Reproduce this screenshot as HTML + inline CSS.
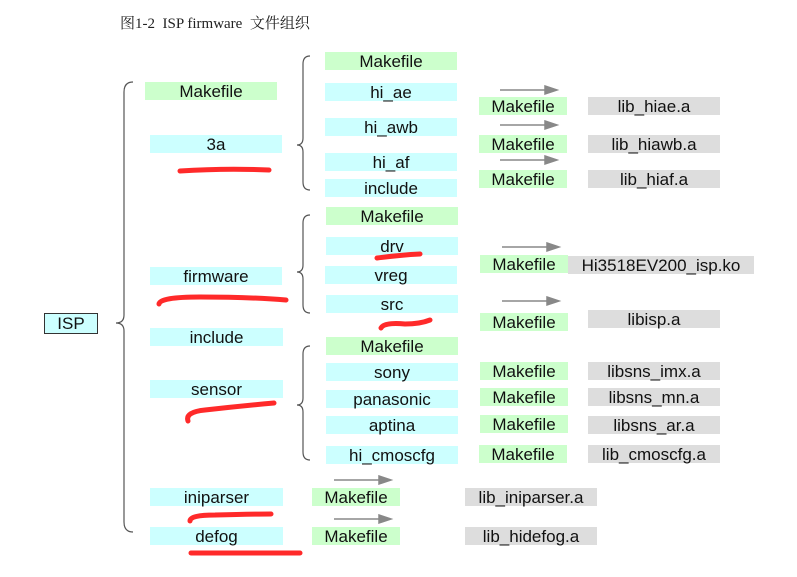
<!DOCTYPE html>
<html><head><meta charset="utf-8"><style>
body{margin:0;width:797px;height:577px;background:#fff;position:relative;overflow:hidden;font-family:"Liberation Sans",sans-serif}
.b{position:absolute;height:18px;line-height:19px;font-size:17px;text-align:center;color:#111;white-space:nowrap}
.c{background:#ccffff}.g{background:#ccffcc}.r{background:#dddddd}
svg{position:absolute;left:0;top:0}
</style></head><body>
<div style="position:absolute;left:120px;top:12px;font:15px 'Liberation Serif','Noto Serif CJK SC',serif;color:#222">图1-2&nbsp; ISP firmware&nbsp; 文件组织</div>

<div class="b c" style="left:44px;top:313px;width:52px;height:19px;border:1px solid #333">ISP</div>

<div class="b g" style="left:145px;top:82px;width:132px">Makefile</div>
<div class="b c" style="left:150px;top:135px;width:132px">3a</div>
<div class="b c" style="left:150px;top:267px;width:132px">firmware</div>
<div class="b c" style="left:150px;top:328px;width:133px">include</div>
<div class="b c" style="left:150px;top:380px;width:133px">sensor</div>
<div class="b c" style="left:150px;top:488px;width:133px">iniparser</div>
<div class="b c" style="left:150px;top:527px;width:133px">defog</div>

<div class="b g" style="left:325px;top:52px;width:132px">Makefile</div>
<div class="b c" style="left:325px;top:83px;width:132px">hi_ae</div>
<div class="b c" style="left:325px;top:118px;width:132px">hi_awb</div>
<div class="b c" style="left:325px;top:153px;width:132px">hi_af</div>
<div class="b c" style="left:325px;top:179px;width:132px">include</div>
<div class="b g" style="left:326px;top:207px;width:132px">Makefile</div>
<div class="b c" style="left:326px;top:237px;width:132px">drv</div>
<div class="b c" style="left:325px;top:266px;width:132px">vreg</div>
<div class="b c" style="left:326px;top:295px;width:132px">src</div>
<div class="b g" style="left:326px;top:337px;width:132px">Makefile</div>
<div class="b c" style="left:326px;top:363px;width:132px">sony</div>
<div class="b c" style="left:326px;top:390px;width:132px">panasonic</div>
<div class="b c" style="left:326px;top:416px;width:132px">aptina</div>
<div class="b c" style="left:326px;top:446px;width:132px">hi_cmoscfg</div>

<div class="b g" style="left:479px;top:97px;width:88px">Makefile</div>
<div class="b g" style="left:479px;top:135px;width:88px">Makefile</div>
<div class="b g" style="left:479px;top:170px;width:88px">Makefile</div>
<div class="b g" style="left:480px;top:255px;width:88px">Makefile</div>
<div class="b g" style="left:480px;top:313px;width:88px">Makefile</div>
<div class="b g" style="left:480px;top:362px;width:88px">Makefile</div>
<div class="b g" style="left:480px;top:388px;width:88px">Makefile</div>
<div class="b g" style="left:480px;top:415px;width:88px">Makefile</div>
<div class="b g" style="left:479px;top:445px;width:88px">Makefile</div>
<div class="b g" style="left:312px;top:488px;width:88px">Makefile</div>
<div class="b g" style="left:312px;top:527px;width:88px">Makefile</div>

<div class="b r" style="left:588px;top:97px;width:132px">lib_hiae.a</div>
<div class="b r" style="left:588px;top:135px;width:132px">lib_hiawb.a</div>
<div class="b r" style="left:588px;top:170px;width:132px">lib_hiaf.a</div>
<div class="b r" style="left:568px;top:256px;width:186px">Hi3518EV200_isp.ko</div>
<div class="b r" style="left:588px;top:310px;width:132px">libisp.a</div>
<div class="b r" style="left:588px;top:362px;width:132px">libsns_imx.a</div>
<div class="b r" style="left:588px;top:388px;width:132px">libsns_mn.a</div>
<div class="b r" style="left:588px;top:416px;width:132px">libsns_ar.a</div>
<div class="b r" style="left:588px;top:445px;width:132px">lib_cmoscfg.a</div>
<div class="b r" style="left:465px;top:488px;width:132px">lib_iniparser.a</div>
<div class="b r" style="left:465px;top:527px;width:132px">lib_hidefog.a</div>

<svg width="797" height="577">
<g fill="none" stroke="#555" stroke-width="1.2">
<path d="M133,82 Q124,82 124,92 L124,315 Q124,323 116,323 Q124,323 124,331 L124,522 Q124,532 133,532"/>
<path d="M310,56 Q303,56 303,64 L303,138 Q303,145 297,145 Q303,145 303,152 L303,182 Q303,190 310,190"/>
<path d="M310,215 Q303,215 303,223 L303,265 Q303,272 297,272 Q303,272 303,279 L303,305 Q303,313 310,313"/>
<path d="M310,346 Q303,346 303,354 L303,398 Q303,405 297,405 Q303,405 303,412 L303,452 Q303,460 310,460"/>
</g>
<g stroke="#888" stroke-width="1.5" fill="#888">
<line x1="500" y1="90" x2="546" y2="90"/><polygon points="545,86 557,90 545,94"/>
<line x1="500" y1="125" x2="546" y2="125"/><polygon points="545,121 557,125 545,129"/>
<line x1="500" y1="160" x2="546" y2="160"/><polygon points="545,156 557,160 545,164"/>
<line x1="502" y1="247" x2="548" y2="247"/><polygon points="547,243 559,247 547,251"/>
<line x1="502" y1="301" x2="548" y2="301"/><polygon points="547,297 559,301 547,305"/>
<line x1="334" y1="480" x2="380" y2="480"/><polygon points="379,476 391,480 379,484"/>
<line x1="334" y1="519" x2="380" y2="519"/><polygon points="379,515 391,519 379,523"/>
</g>
<g fill="none" stroke="#ff2a2a" stroke-width="5" stroke-linecap="round">
<path d="M180,171 Q225,168 269,170"/>
<path d="M159,304 Q160,297 200,297 Q250,297 286,300"/>
<path d="M377,258 Q400,255 420,254"/>
<path d="M381,328 Q384,322 405,324 Q420,324 430,320"/>
<path d="M188,421 Q185,412 205,410 Q240,406 274,403"/>
<path d="M190,521 Q190,515 215,515 Q250,514 271,514"/>
<path d="M191,553 Q245,553 300,553"/>
</g>
</svg>
</body></html>
